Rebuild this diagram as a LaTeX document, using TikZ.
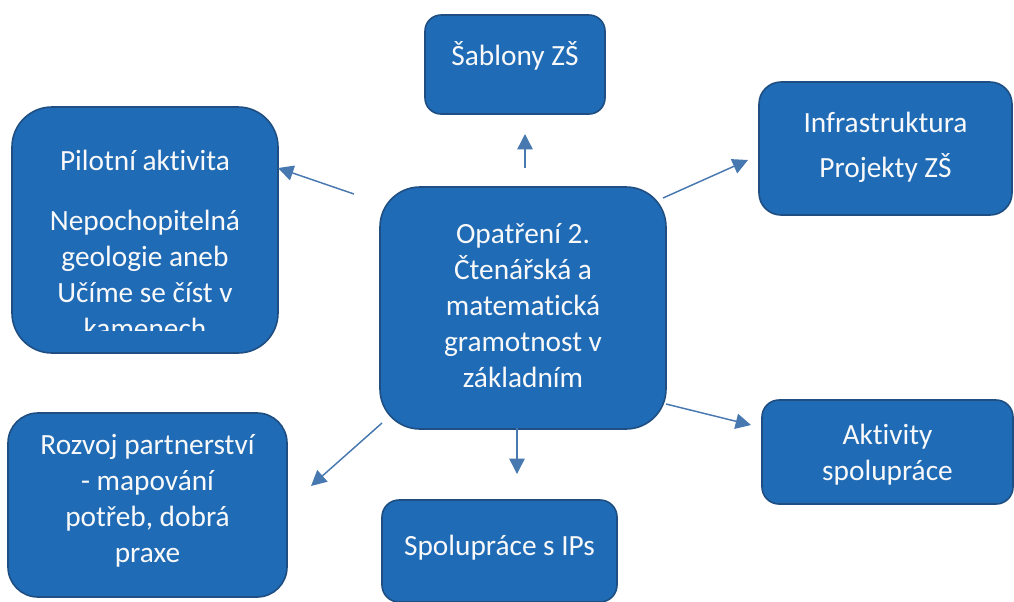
\documentclass[tikz,border=0pt]{standalone}
\usepackage{fontspec}
\setmainfont{Carlito}[Ligatures=NoCommon]
\usetikzlibrary{arrows.meta}
\definecolor{boxblue}{RGB}{31,107,182}
\definecolor{boxedge}{RGB}{30,78,130}
\definecolor{arrowblue}{RGB}{72,120,176}

\begin{document}
\begin{tikzpicture}[x=0.75pt,y=-0.75pt,
  box/.style={draw=boxedge, line width=1.2pt, fill=boxblue},
  txt/.style={text=white!95!gray, align=center, inner sep=0pt,
    font=\fontsize{22}{27}\selectfont},
  conn/.style={arrowblue, line width=1.1pt, -{Triangle[length=11.5pt,width=11.5pt]}}]
\useasboundingbox (0,0) rectangle (1014,601);
% boxes: name/x/y/width/height/corner (pt)
\foreach \n/\x/\y/\w/\h/\r in {sab/515/64.5/135/74.25/12, infra/885.5/148.5/189.75/99.75/16.5,
  pilot/145/230/199.5/184.5/30, opat/523/308/214.5/181.5/30, rozvoj/147.5/505/209.25/138/22.5,
  ips/499.5/551/176.25/76.5/12.75, akt/887.5/452/188.25/78/12.75} {
 \node[box, minimum width=\w pt, minimum height=\h pt, rounded corners=\r pt] (\n) at (\x,\y) {};
}
% texts
\node[txt] (sabtxt) at (515,56) {Šablony ZŠ};
\node[txt] (infratxt) at (885.5,147) {Infrastruktura\\[7pt] Projekty ZŠ};
\begin{scope}
\clip (12,107) rectangle (278,330);
\node[txt] (pilottxt) at (145,244) {Pilotní aktivita\\[18pt] Nepochopitelná\\ geologie aneb\\
  Učíme se číst v\\ kamenech};
\end{scope}
\node[txt] (opattxt) at (523,306) {Opatření 2.\\ Čtenářská a\\ matematická\\ gramotnost v\\ základním};
\node[txt] (rozvojtxt) at (147.5,501) {Rozvoj partnerství\\ - mapování\\ potřeb, dobrá\\ praxe};
\node[txt] (ipstxt) at (499.5,548) {Spolupráce s IPs};
\node[txt] (akttxt) at (887.5,455) {Aktivity\\ spolupráce};
% arrows
\coordinate (s1) at (525,168); \coordinate (e1) at (525,134);
\coordinate (s2) at (663,198); \coordinate (e2) at (748,160);
\coordinate (s3) at (354,194); \coordinate (e3) at (278,168);
\coordinate (s4) at (382,423); \coordinate (e4) at (311,486);
\coordinate (s5) at (517,428); \coordinate (e5) at (517,474);
\coordinate (s6) at (666,404); \coordinate (e6) at (751,425);
\foreach \i in {1,...,6} {
 \draw[conn] (s\i) -- (e\i);
}
\end{tikzpicture}
\end{document}
